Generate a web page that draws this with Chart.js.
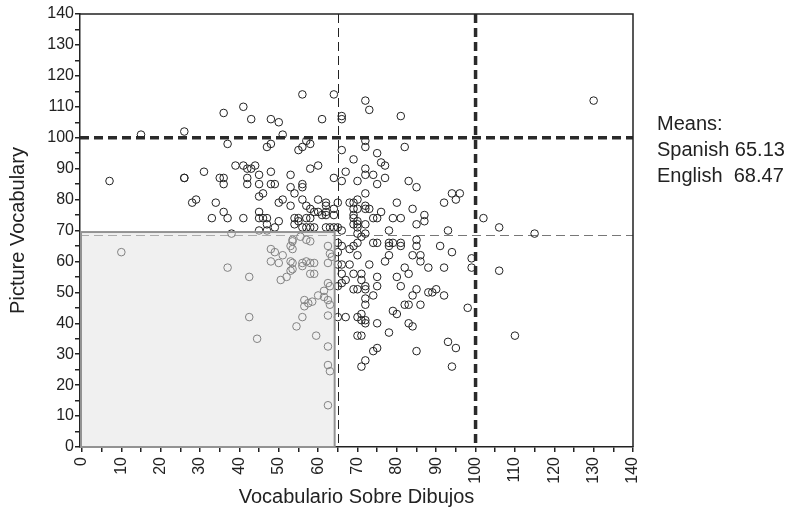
<!DOCTYPE html>
<html>
<head>
<meta charset="utf-8">
<script src="https://cdn.jsdelivr.net/npm/chart.js@4.4.1/dist/chart.umd.min.js"></script>
<style>
  html, body { margin: 0; padding: 0; background: #fff; }
</style>
</head>
<body>
<canvas id="chart" width="798" height="513"></canvas>
<script>
// Scores, one entry per child
var spanishScores = [
  130, 15, 26, 7, 36, 41, 43, 48, 37, 47, 48, 26, 26, 31, 35, 36, 36, 39, 41, 42, 43, 44, 42, 42, 45, 45, 48, 48, 28, 29, 34, 36, 37, 33, 41, 45, 46, 45, 45, 47, 47,
  56, 64, 72, 73, 81, 66, 66, 50, 61, 51, 72, 72, 55, 56, 57, 58, 82, 66, 75, 76, 77, 69, 58, 60, 67, 72, 72, 64, 66, 70, 74, 77, 75, 83, 85, 94, 96, 95, 92,
  53, 49, 56, 56, 53, 54, 72, 56, 51, 50, 53, 57, 58, 60, 62, 62, 65, 64, 68, 69, 70, 69, 70, 72, 72, 73, 76, 80, 84, 79, 81, 87, 87, 85, 74, 75, 69, 69, 70, 72,
  62, 62, 64, 60, 61, 59, 54, 55, 57, 58, 50, 46, 54, 55, 56, 57, 58, 59, 62, 63, 64, 65, 66, 69, 70, 70, 72, 71, 70, 78, 93, 102, 106, 115, 45, 47, 49,
  65, 66, 68, 69, 70, 70, 74, 75, 78, 78, 79, 81, 81, 85, 85, 91, 94, 78, 84, 86, 86, 65, 65, 66, 68, 73, 77, 82, 83, 88, 92, 66, 69, 71, 71, 66, 67, 75, 75, 80,
  72, 70, 69, 72, 65, 81, 74, 72, 85, 84, 88, 89, 90, 92, 72, 70, 71, 71, 72, 72, 65, 67, 75, 79, 80, 82, 83, 86, 83, 84, 70, 71, 78, 74, 75, 72, 71, 85, 93, 95,
  94, 99, 99, 106, 98, 110,
  38, 10, 37, 42.5, 42.5, 44.5, 48, 48, 49, 51, 53, 53.5, 53.5, 50, 53, 53.5, 56, 53, 53.5, 56, 57, 58, 59, 59, 58, 50.5, 52, 55.5, 57, 58, 53.5,
  62.5, 62.5, 63, 63.5, 62.5, 63, 61.5, 61.5, 60, 58.5, 56.5, 56.5, 57.5, 56, 54.5, 59.5, 62.5, 63, 62.5, 62.5, 62.5, 63, 62.5
];
var englishScores = [
  112, 101, 102, 86, 108, 110, 106, 106, 98, 97, 98, 87, 87, 89, 87, 87, 85, 91, 91, 90, 90, 91, 87, 85, 88, 85, 89, 85, 79, 80, 79, 76, 74, 74, 74, 81, 82, 76, 74, 74, 72,
  114, 114, 112, 109, 107, 107, 106, 105, 106, 101, 99, 97, 96, 97, 99, 98, 97, 96, 95, 92, 91, 93, 90, 91, 89, 90, 88, 87, 86, 86, 88, 87, 85, 86, 84, 82, 82, 80, 79,
  88, 85, 85, 84, 84, 82, 82, 80, 80, 79, 78, 78, 77, 80, 79, 78, 79, 77, 79, 79, 80, 77, 77, 78, 77, 77, 76, 79, 77, 74, 74, 75, 73, 72, 74, 74, 75, 74, 73, 72,
  76, 75, 75, 76, 75, 76, 74, 74, 74, 74, 73, 74, 72, 73, 71, 71, 71, 71, 71, 71, 71, 71, 70, 72, 71, 72, 69, 68, 69, 70, 70, 74, 71, 69, 70, 70, 71,
  66, 65, 64, 65, 66, 62, 66, 66, 66, 65, 66, 66, 65, 67, 65, 65, 63, 62, 62, 62, 60, 63, 59, 59, 59, 59, 60, 58, 56, 58, 58, 56, 56, 56, 54, 53, 54, 55, 52, 55,
  52, 51, 51, 51, 52, 52, 49, 48, 51, 49, 50, 50, 51, 49, 46, 42, 43, 41, 41, 40, 42, 42, 40, 44, 43, 46, 46, 46, 40, 39, 36, 36, 37, 31, 32, 28, 26, 31, 34, 32,
  26, 61, 58, 57, 45, 36,
  69, 63, 58, 55, 42, 35, 64, 60, 63, 62, 65, 64, 66.5, 59.5, 60, 59.5, 59.5, 57, 57.5, 58.5, 60, 59.5, 59.5, 56, 56, 54, 55, 68, 67, 66.5, 67,
  65, 59.5, 62.5, 61.5, 53, 52, 50.5, 48.5, 49, 47, 47.5, 45.5, 46.5, 42, 39, 36, 47.5, 46, 42.5, 32.5, 26.5, 24.5, 13.5
];

// Reference lines and the shaded low-low region
var meanSpanish = 65.13;
var meanEnglish = 68.47;
var cutoffScore = 100;
var lowBoxSpanish = 64.2;
var lowBoxEnglish = 69.5;

var tickValues = [];
for (var t = 0; t <= 140; t += 5) tickValues.push(t);

var family = '"Liberation Sans", Arial, Helvetica, sans-serif';
var ink = '#222';

var points = spanishScores.map(function (s, i) {
  return { x: s, y: englishScores[i] };
});

function hLine(ctx, area, py) {
  ctx.beginPath();
  ctx.moveTo(area.left, py);
  ctx.lineTo(area.right, py);
  ctx.stroke();
}
function vLine(ctx, area, px) {
  ctx.beginPath();
  ctx.moveTo(px, area.top);
  ctx.lineTo(px, area.bottom);
  ctx.stroke();
}

var overlays = {
  id: 'overlays',
  beforeDatasetsDraw: function (chart) {
    var ctx = chart.ctx, a = chart.chartArea, x = chart.scales.x, y = chart.scales.y;
    ctx.save();
    ctx.lineWidth = 1;
    ctx.setLineDash([9, 5]);
    ctx.strokeStyle = '#777';
    hLine(ctx, a, Math.round(y.getPixelForValue(meanEnglish)) + 0.5);
    ctx.strokeStyle = ink;
    vLine(ctx, a, Math.round(x.getPixelForValue(meanSpanish)) + 0.5);
    ctx.restore();
  },
  afterDatasetsDraw: function (chart) {
    var ctx = chart.ctx, a = chart.chartArea, x = chart.scales.x, y = chart.scales.y;
    ctx.save();

    // shaded box sits on top of the points, greying them out
    var bx = a.left, by = y.getPixelForValue(lowBoxEnglish);
    var bw = x.getPixelForValue(lowBoxSpanish) - bx, bh = a.bottom - by;
    ctx.fillStyle = 'rgba(226,226,226,0.5)';
    ctx.fillRect(bx, by, bw, bh);
    ctx.strokeStyle = '#939393';
    ctx.lineWidth = 2;
    ctx.strokeRect(bx + 1, by, bw - 1, bh);

    // bold cut-off lines at 100
    ctx.strokeStyle = '#2a2a2a';
    ctx.lineWidth = 3.5;
    ctx.setLineDash([9, 5]);
    hLine(ctx, a, y.getPixelForValue(cutoffScore));
    vLine(ctx, a, x.getPixelForValue(cutoffScore));

    // frame top and right
    ctx.setLineDash([]);
    ctx.strokeStyle = ink;
    ctx.lineWidth = 1.5;
    ctx.beginPath();
    ctx.moveTo(a.left, a.top);
    ctx.lineTo(a.right, a.top);
    ctx.lineTo(a.right, a.bottom);
    ctx.stroke();

    // means note
    ctx.fillStyle = ink;
    ctx.font = '20px ' + family;
    ctx.textBaseline = 'middle';
    ctx.textAlign = 'left';
    ctx.fillText('Means:', 657, 124);
    ctx.fillText('Spanish 65.13', 657, 150);
    ctx.fillText('English  68.47', 657, 176);
    ctx.restore();
  }
};

function label(v) {
  return v % 10 === 0 ? String(v) : '';
}

new Chart(document.getElementById('chart'), {
  type: 'scatter',
  data: {
    datasets: [{
      data: points,
      pointRadius: 3.8,
      pointHoverRadius: 3.8,
      pointBorderWidth: 1,
      borderColor: ink,
      backgroundColor: 'rgba(0,0,0,0)'
    }]
  },
  options: {
    responsive: false,
    animation: false,
    devicePixelRatio: 1,
    layout: { padding: { top: 14, right: 165, bottom: 0, left: 0 } },
    plugins: {
      legend: { display: false },
      tooltip: { enabled: false }
    },
    scales: {
      x: {
        type: 'linear',
        min: -0.5,
        max: 140,
        afterBuildTicks: function (s) { s.ticks = tickValues.map(function (v) { return { value: v }; }); },
        afterFit: function (s) { s.height = 66; },
        ticks: {
          autoSkip: false, minRotation: 90, maxRotation: 90, padding: 5,
          color: ink, font: { size: 16, family: family }, callback: label
        },
        grid: { drawOnChartArea: false, tickLength: 5, color: ink, lineWidth: 1.5 },
        border: { color: ink, width: 1.5 },
        title: {
          display: true, text: 'Vocabulario Sobre Dibujos', color: ink,
          font: { size: 20, family: family }, padding: { top: 4, bottom: 4 }
        }
      },
      y: {
        type: 'linear',
        min: 0,
        max: 140,
        afterBuildTicks: function (s) { s.ticks = tickValues.map(function (v) { return { value: v }; }); },
        afterFit: function (s) { s.width = 80; },
        ticks: {
          autoSkip: false, padding: 1,
          color: ink, font: { size: 16, family: family }, callback: label
        },
        grid: { drawOnChartArea: false, tickLength: 5, color: ink, lineWidth: 1.5 },
        border: { color: ink, width: 1.5 },
        title: {
          display: true, text: 'Picture Vocabulary', color: ink,
          font: { size: 20, family: family }, padding: { top: 6, bottom: 4 }
        }
      }
    }
  },
  plugins: [overlays]
});
</script>
</body>
</html>
